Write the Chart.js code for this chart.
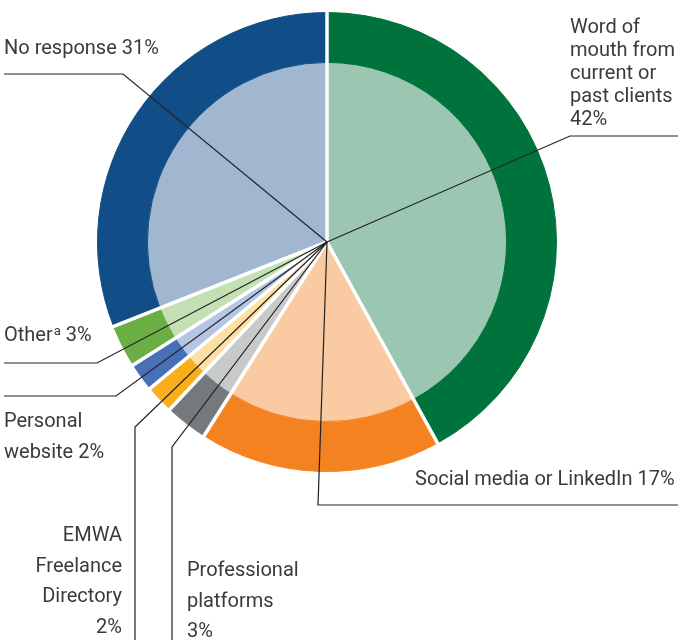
<!DOCTYPE html>
<html>
<head>
<meta charset="utf-8">
<title>How clients find freelancers</title>
<script src="https://cdn.jsdelivr.net/npm/chart.js@4.4.1/dist/chart.umd.min.js"></script>
<style>
  html, body { margin: 0; padding: 0; background: #fff; }
  #chart { display: block; }
</style>
</head>
<body>
<canvas id="chart" width="678" height="640"></canvas>
<script>
"use strict";

// Data, clockwise from 12 o'clock
const categories = [
  "Word of mouth from current or past clients",
  "Social media or LinkedIn",
  "Professional platforms",
  "EMWA Freelance Directory",
  "Personal website",
  "Other",
  "No response",
];
const shares = [42, 17, 3, 2, 2, 3, 31];

const outerColors = ["#00733c", "#f58220", "#747a7b", "#f9ae1c", "#4870b8", "#6aae44", "#114e87"];
const innerColors = ["#9bc6b1", "#facba3", "#c8c9ca", "#fddfa4", "#b5c6e4", "#c3dfb4", "#a0b7cf"];

// Label text, one entry per category (split into lines as in the figure)
const labelLines = [
  ["Word of", "mouth from", "current or", "past clients", "42%"],
  ["Social media or LinkedIn 17%"],
  ["Professional", "platforms", "3%"],
  ["EMWA", "Freelance", "Directory", "2%"],
  ["Personal", "website 2%"],
  ["Other|a| 3%"],
  ["No response 31%"],
];

// Label placement and leader-line elbows (layout only)
const LAYOUT = [
  { x: 570, y: 33,  step: 23, align: "left",  path: [[570, 136], [678, 136]] },
  { x: 415, y: 485, step: 31, align: "left",  path: [[318, 505], [678, 505]] },
  { x: 187, y: 576, step: 30.5, align: "left", path: [[172, 447], [172, 640]] },
  { x: 122, y: 541, step: 30.7, align: "right", path: [[135, 427], [135, 640]] },
  { x: 4,   y: 427, step: 31, align: "left",  path: [[116, 396], [4, 396]] },
  { x: 4,   y: 341, step: 31, align: "left",  path: [[97, 363], [4, 363]] },
  { x: 4,   y: 54,  step: 31, align: "left",  path: [[123, 74], [4, 74]] },
];

const FONT = "20px Roboto";
const SUP_FONT = "13px Roboto";
const TEXT_COLOR = "#3a3a3a";

function drawLine(ctx, x, y, text, align) {
  // "|a|" marks a superscript
  const parts = text.split("|");
  ctx.font = FONT;
  let total = 0;
  parts.forEach((p, i) => {
    ctx.font = i % 2 ? SUP_FONT : FONT;
    total += ctx.measureText(p).width + (i % 2 ? 1 : 0);
  });
  let cx = align === "right" ? x - total : x;
  parts.forEach((p, i) => {
    const sup = i % 2 === 1;
    ctx.font = sup ? SUP_FONT : FONT;
    ctx.fillText(p, cx + (sup ? 1 : 0), sup ? y - 6 : y);
    cx += ctx.measureText(p).width + (sup ? 1 : 0);
  });
}

const annotations = {
  id: "annotations",
  afterDatasetsDraw(chart) {
    const ctx = chart.ctx;
    const arcs = chart.getDatasetMeta(0).data;
    const cx = arcs[0].x, cy = arcs[0].y, r = arcs[0].outerRadius;

    // white separators between slices
    ctx.save();
    ctx.strokeStyle = "#ffffff";
    ctx.lineWidth = 3.5;
    ctx.lineCap = "butt";
    arcs.forEach(a => {
      ctx.beginPath();
      ctx.moveTo(cx, cy);
      ctx.lineTo(cx + Math.cos(a.startAngle) * (r + 2), cy + Math.sin(a.startAngle) * (r + 2));
      ctx.stroke();
    });
    ctx.restore();

    // leader lines
    ctx.save();
    ctx.strokeStyle = "#222222";
    ctx.lineWidth = 1.2;
    ctx.lineJoin = "miter";
    LAYOUT.forEach(l => {
      ctx.beginPath();
      ctx.moveTo(cx, cy);
      l.path.forEach(([px, py]) => ctx.lineTo(px, py));
      ctx.stroke();
    });
    ctx.restore();

    // labels
    ctx.save();
    ctx.fillStyle = TEXT_COLOR;
    ctx.textBaseline = "alphabetic";
    ctx.textAlign = "left";
    labelLines.forEach((lines, i) => {
      const l = LAYOUT[i];
      lines.forEach((t, j) => drawLine(ctx, l.x, l.y + j * l.step, t, l.align));
    });
    ctx.restore();
  },
};

new Chart(document.getElementById("chart"), {
  type: "pie",
  data: {
    labels: categories,
    datasets: [
      { data: shares, backgroundColor: outerColors, borderColor: outerColors, borderWidth: 1, weight: 50 },
      { data: shares, backgroundColor: innerColors, borderColor: innerColors, borderWidth: 1, weight: 180 },
    ],
  },
  options: {
    responsive: false,
    animation: false,
    events: [],
    cutout: 0,
    hoverOffset: 0,
    layout: { padding: { left: 97, right: 121, top: 12, bottom: 168 } },
    plugins: {
      legend: { display: false },
      tooltip: { enabled: false },
    },
  },
  plugins: [annotations],
});
</script>
</body>
</html>
